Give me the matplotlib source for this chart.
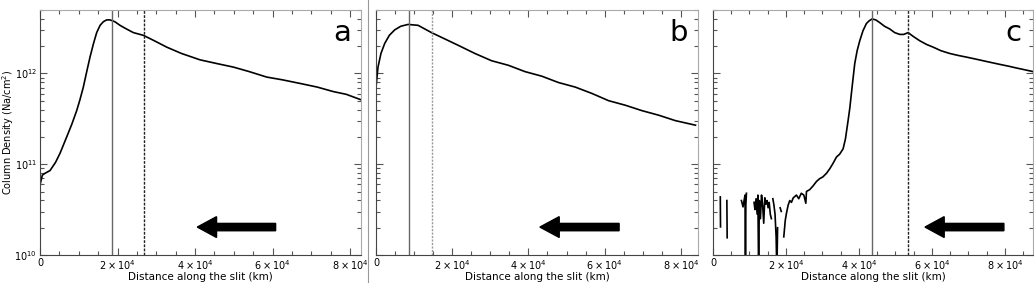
import numpy as np
import matplotlib
matplotlib.use('Agg')
import matplotlib.pyplot as plt
from matplotlib.patches import FancyArrow
from matplotlib.ticker import FixedLocator, FuncFormatter, LogLocator, NullFormatter

nan = np.nan

# panel a: distance (km) and log10 column density
a_x = [0, 600, 1290, 2580, 4000, 5160, 6880, 8200, 9460, 10300, 11180, 12000, 12900,
       13800, 14620, 15500, 16340, 17200, 18060, 19300, 20640, 22300, 24080, 26660,
       29500, 32680, 36500, 41280, 45500, 49880, 54000, 58480, 62500, 67080, 71500,
       75680, 79000, 82800]
a_y = [10.77, 10.88, 10.90, 10.93, 11.02, 11.12, 11.30, 11.44, 11.59, 11.71, 11.85,
       12.01, 12.18, 12.33, 12.45, 12.53, 12.57, 12.59, 12.59, 12.57, 12.53, 12.49,
       12.45, 12.42, 12.36, 12.29, 12.22, 12.15, 12.11, 12.07, 12.02, 11.96, 11.93,
       11.89, 11.85, 11.80, 11.77, 11.71]
a_lines = [18600, 26800]

# panel b
b_x = [0, 526, 1300, 2280, 3500, 4911, 6500, 8419, 11050, 14560, 18070, 21570, 25960,
       30340, 34730, 39110, 43500, 47880, 52270, 56650, 61040, 65420, 69810, 74190,
       78580, 83840]
b_y = [11.85, 12.07, 12.22, 12.33, 12.42, 12.48, 12.52, 12.54, 12.53, 12.45, 12.38,
       12.31, 12.22, 12.14, 12.09, 12.02, 11.97, 11.90, 11.85, 11.78, 11.70, 11.65,
       11.59, 11.54, 11.48, 11.43]
b_lines = [8700, 14600]

# panel c (noisy wing with gaps)
c_x = [2000, 2060, nan,
       3800, 3880, nan,
       7790, 8230, 8600, 8780, 8900, 9000, 9160, nan,
       11250, 11500, 11800, 12100, 12300, 12500, 12700, 13000, 13300, 13600, 13900,
       14200, 14500, 14800, 15100, 15400, 15700, 16000, nan,
       16400, 16700, 17000, 17300, 17500, 17700, nan,
       18400, 18700, nan,
       19400, 19800, 20130, 20600, 21040, 21500, 22000, 22870, 23500, 24200, 24900,
       25440, 25620, 26500, 27400, 28360, 29200, 30100, 31100, 32000, 32900, 33850,
       34700, 35660, 36300, 37020, 37500, 37930, 38400, 38850, 39500, 40220, 41100,
       42040, 42800, 43600, 44600, 45700, 47000, 48440, 49800, 51180, 52280, 53470,
       54800, 56670, 58500, 60320, 62500, 64890, 67000, 69460, 71800, 74030, 76300,
       78600, 81000, 83170, 85500, 87740]
c_y = [10.64, 10.31, nan,
       10.60, 10.19, nan,
       10.60, 10.53, 10.62, 10.66, 9.80, 10.55, 10.68, nan,
       10.58, 10.50, 10.62, 10.45, 10.66, 9.80, 10.60, 10.40, 10.66, 10.55, 10.35,
       10.63, 10.56, 10.60, 10.52, 10.58, 10.45, 10.40, nan,
       10.62, 10.55, 10.45, 10.20, 9.80, 10.30, nan,
       10.52, 10.48, nan,
       10.20, 10.38, 10.46, 10.55, 10.60, 10.58, 10.63, 10.66, 10.62, 10.68, 10.66,
       10.57, 10.70, 10.72, 10.76, 10.81, 10.84, 10.86, 10.90, 10.95, 11.01, 11.08,
       11.11, 11.17, 11.28, 11.48, 11.62, 11.78, 11.95, 12.11, 12.25, 12.36, 12.47,
       12.55, 12.58, 12.60, 12.59, 12.56, 12.52, 12.49, 12.45, 12.43, 12.43, 12.45,
       12.41, 12.36, 12.32, 12.29, 12.25, 12.22, 12.20, 12.18, 12.16, 12.14, 12.12,
       12.10, 12.08, 12.06, 12.04, 12.02]
c_lines = [43600, 53500]

panels = [
    ('a', a_x, a_y, a_lines, 82800, 'dashed'),
    ('b', b_x, b_y, b_lines, 84500, 'dotted'),
    ('c', c_x, c_y, c_lines, 87700, 'dashed'),
]
xticks = [0, 20000, 40000, 60000, 80000]
tick_labels = ['0', r'$2\times10^{4}$', r'$4\times10^{4}$', r'$6\times10^{4}$', r'$8\times10^{4}$']

# arrow: tail, tip (axes fraction)
arrows = [(0.734, 0.49), (0.755, 0.509), (0.909, 0.6625)]

fig = plt.figure(figsize=(10.34, 2.83), dpi=100)
lefts = [40, 376, 713]
widths = [321, 322, 320]

for i, (name, x, y, vl, xmax, style2) in enumerate(panels):
    ax = fig.add_axes([lefts[i] / 1034, 28 / 283, widths[i] / 1034, 245 / 283])
    ax.plot(x, 10 ** np.array(y, dtype=float), color='black', lw=1.2)
    ax.axvline(vl[0], color='#666666', lw=1.0)
    if style2 == 'dotted':
        ax.axvline(vl[1], color='#999999', lw=1.0, ls=(0, (1.5, 1)))
    else:
        ax.axvline(vl[1], color='#222222', lw=1.0, ls=(0, (2, 1)))
    ax.set_yscale('log')
    ax.set_ylim(1e10, 5e12)
    ax.set_xlim(0, xmax)
    ax.xaxis.set_major_locator(FixedLocator(xticks))
    ax.xaxis.set_major_formatter(FuncFormatter(lambda v, p: tick_labels[xticks.index(int(v))] if int(v) in xticks else ''))
    ax.xaxis.set_minor_locator(FixedLocator(np.arange(0, xmax, 5000)))
    ax.yaxis.set_minor_locator(LogLocator(base=10, subs=np.arange(2, 10), numticks=20))
    ax.yaxis.set_minor_formatter(NullFormatter())
    ax.tick_params(which='both', direction='in', top=True, right=True, colors='#555555',
                   labelcolor='black', labelsize=7, width=0.8, pad=2)
    ax.tick_params(which='major', length=5)
    ax.tick_params(which='minor', length=3)
    for s in ['left', 'bottom']:
        ax.spines[s].set_color('#444444')
    for s in ['top', 'right']:
        ax.spines[s].set_color('#aaaaaa')
    ax.set_xlabel('Distance along the slit (km)', fontsize=7.5, labelpad=0)
    if i > 0:
        ax.tick_params(labelleft=False)
    ax.text(0.94, 0.905, name, transform=ax.transAxes, fontsize=21, ha='center', va='center')
    tail, tip = arrows[i]
    ax.add_patch(FancyArrow(tail, 0.114, tip - tail, 0, width=0.03, head_width=0.085,
                            head_length=0.06, length_includes_head=True,
                            transform=ax.transAxes, color='black'))

fig.text(8 / 1034, 0.533, 'Column Density (Na/cm$^2$)', rotation=90, fontsize=7,
         ha='center', va='center')
fig.add_artist(plt.Line2D([368 / 1034, 368 / 1034], [0, 1], color='#999999', lw=0.8))
fig.savefig('out.png', dpi=100)
